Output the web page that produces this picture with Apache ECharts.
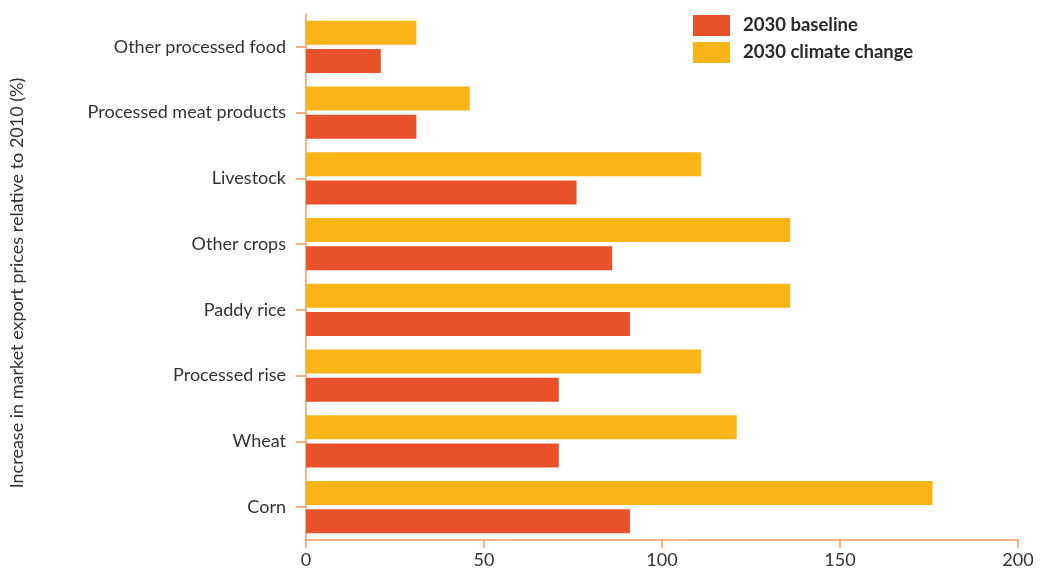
<!DOCTYPE html>
<html><head><meta charset="utf-8">
<script src="https://cdn.jsdelivr.net/npm/echarts@6/dist/echarts.min.js"></script>
<style>html,body{margin:0;padding:0;background:#fff}#c{width:1040px;height:574px}</style>
</head><body><div id="c"></div>
<script>
const categories = ["Corn","Wheat","Processed rise","Paddy rice","Other crops","Livestock","Processed meat products","Other processed food"];
const baseline = [91, 71, 71, 91, 86, 76, 31, 21];
const climateChange = [176, 121, 111, 136, 136, 111, 46, 31];
const xTicks = [0, 50, 100, 150, 200];
const seriesNames = ["2030 baseline", "2030 climate change"];

const axisColor = "#F79A5A";
const font = "Lato, 'Open Sans', sans-serif";
const chart = echarts.init(document.getElementById('c'));
chart.setOption({
  animation: false,
  textStyle: {fontFamily: font},
  grid: {left: 306, right: 22, top: 14, bottom: 34, containLabel: false, outerBoundsMode: 'none'},
  legend: {
    data: seriesNames, orient: 'vertical', left: 688, top: 10,
    itemWidth: 37, itemHeight: 21, itemGap: 6, icon: 'rect',
    textStyle: {fontFamily: font, fontSize: 18.5, fontWeight: 'bold', color: '#2a2a2a', padding: [0,0,0,8]}
  },
  xAxis: {
    type: 'value', min: xTicks[0], max: xTicks[xTicks.length-1], interval: 50,
    axisLine: {show: true, lineStyle: {color: axisColor, width: 1.5}},
    axisTick: {show: true, length: 8, lineStyle: {color: axisColor, width: 1.5}},
    splitLine: {show: false},
    axisLabel: {color: '#333', fontSize: 18, margin: 11, fontFamily: font}
  },
  yAxis: {
    type: 'category', data: categories,
    name: 'Increase in market export prices relative to 2010 (%)',
    nameLocation: 'middle', nameGap: 280, nameRotate: 90,
    nameTextStyle: {color: '#333', fontSize: 18, fontFamily: font, padding: [0, 12, 0, 0]},
    axisLine: {show: true, lineStyle: {color: axisColor, width: 1.5}},
    axisTick: {show: true, alignWithLabel: true, length: 10, lineStyle: {color: axisColor, width: 1.5}},
    axisLabel: {color: '#333', fontSize: 18, margin: 20, fontFamily: font}
  },
  series: [
    {name: seriesNames[1], type: 'bar', data: climateChange, barWidth: 24, barGap: '17%', itemStyle: {color: '#F9B418'}},
    {name: seriesNames[0], type: 'bar', data: baseline, barWidth: 24, barGap: '17%', itemStyle: {color: '#E9512B'}}
  ]
});
</script></body></html>
